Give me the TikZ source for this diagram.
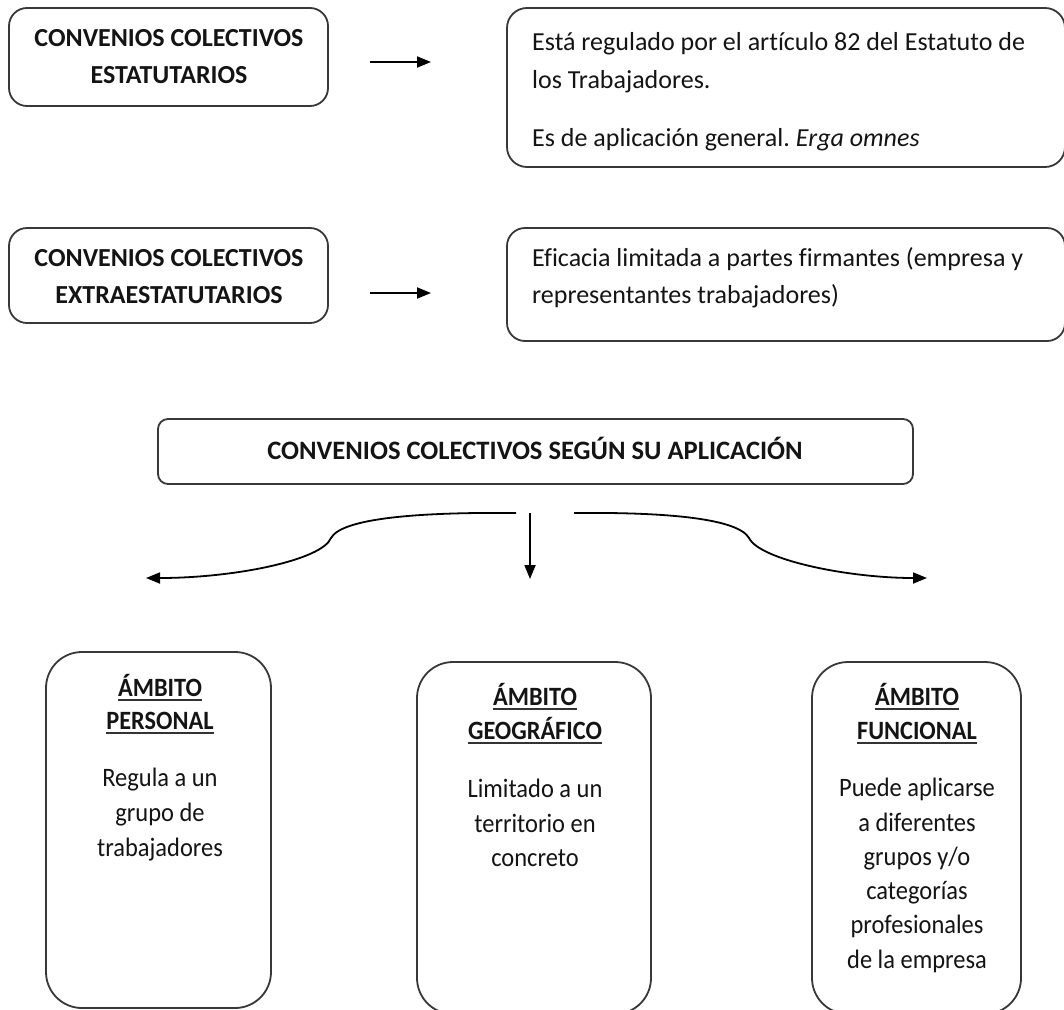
\documentclass[tikz,border=0pt]{standalone}
\usepackage{fontspec}
\setmainfont{Carlito}[Ligatures=NoCommon]
\newfontfamily\tallfont{Carlito}[Ligatures=NoCommon, FakeStretch=0.92]
\usetikzlibrary{arrows.meta}
\frenchspacing
\begin{document}
\begin{tikzpicture}[x=1pt,y=-1pt,
  frame/.style={draw=black!78, line width=1.8pt, inner sep=0pt},
  txt/.style={inner sep=0pt, anchor=base, text=black!92, font=\fontsize{26}{30}\selectfont},
  txtb/.style={txt, font=\fontsize{26}{30}\selectfont\bfseries},
  txtl/.style={txt, anchor=base west},
  btxt/.style={inner sep=0pt, anchor=base, text=black!92, font=\tallfont\fontsize{26.6}{30}\selectfont},
  btitle/.style={btxt, font=\tallfont\fontsize{26.4}{30}\selectfont\bfseries},
  uline/.style={draw=black!80, line width=2pt},
  arr/.style={line width=1.8pt, draw=black, -{Triangle[length=14pt,width=11pt]}}
]
\useasboundingbox (0,0) rectangle (1064,1009);
\fill[white] (0,0) rectangle (1064,1009);

% top-left boxes
\node[frame, rounded corners=18pt, minimum width=319pt, minimum height=98pt] (b1) at (168.5,57) {};
\node[txtb] (t1a) at (169,46) {CONVENIOS COLECTIVOS};
\node[txtb] (t1b) at (169,83) {ESTATUTARIOS};

\node[frame, rounded corners=18pt, minimum width=319pt, minimum height=95pt] (b3) at (168.5,275.5) {};
\node[txtb] (t3a) at (169,266) {CONVENIOS COLECTIVOS};
\node[txtb] (t3b) at (169,303) {EXTRAESTATUTARIOS};

% top-right boxes
\node[frame, rounded corners=20pt, minimum width=558pt, minimum height=159pt] (b2) at (786,87.5) {};
\node[txtl] (t2a) at (532,50) {Está regulado por el artículo 82 del Estatuto de};
\node[txtl] (t2b) at (532,88) {los Trabajadores.};
\node[txtl] (t2c) at (532,146) {Es de aplicación general. \textit{Erga omnes}};

\node[frame, rounded corners=18pt, minimum width=558pt, minimum height=113pt] (b4) at (786,284.5) {};
\node[txtl] (t4a) at (532,266) {Eficacia limitada a partes firmantes (empresa y};
\node[txtl] (t4b) at (532,303) {representantes trabajadores)};

% horizontal arrows
\coordinate (a1s) at (370,62);
\coordinate (a1e) at (431,62);
\coordinate (a2s) at (370,293);
\coordinate (a2e) at (431,293);
\draw[arr] (a1s) -- (a1e);
\draw[arr] (a2s) -- (a2e);

% middle box
\node[frame, rounded corners=10pt, minimum width=755pt, minimum height=65pt] (b5) at (535.5,451.5) {};
\node[txtb, font=\fontsize{26.6}{30}\selectfont\bfseries] (t5) at (535,459) {CONVENIOS COLECTIVOS SEGÚN SU APLICACIÓN};

% branching arrows
\coordinate (cLs) at (516,513);
\coordinate (cLe) at (146,578);
\coordinate (cMs) at (530,513);
\coordinate (cMe) at (530,579);
\coordinate (cRs) at (574,513);
\coordinate (cRe) at (927,578);
\draw[arr] (cLs) .. controls (420,512) and (342,518) .. (331,538)
                 .. controls (322,560) and (235,578) .. (cLe);
\draw[arr] (cMs) -- (cMe);
\draw[arr] (cRs) .. controls (670,512) and (738,519) .. (749,538)
                 .. controls (760,560) and (848,578) .. (cRe);

% bottom boxes
\node[frame, rounded corners=36pt, minimum width=225pt, minimum height=356pt] (b6) at (158.5,830) {};
\node[btitle] (t6a) at (160,696) {ÁMBITO};
\node[btitle] (t6b) at (160,729) {PERSONAL};
\node[btxt] (t6c) at (160,786) {Regula a un};
\node[btxt] (t6d) at (160,821) {grupo de};
\node[btxt] (t6e) at (160,856) {trabajadores};

\node[frame, rounded corners=36pt, minimum width=234pt, minimum height=352pt] (b7) at (534,838) {};
\node[btitle] (t7a) at (535,705) {ÁMBITO};
\node[btitle] (t7b) at (535,739) {GEOGRÁFICO};
\node[btxt] (t7c) at (535,797) {Limitado a un};
\node[btxt] (t7d) at (535,832) {territorio en};
\node[btxt] (t7e) at (535,866) {concreto};

\node[frame, rounded corners=36pt, minimum width=209pt, minimum height=352pt] (b8) at (916.5,838) {};
\node[btitle] (t8a) at (917,705) {ÁMBITO};
\node[btitle] (t8b) at (917,739) {FUNCIONAL};
\node[btxt] (t8c) at (917,796) {Puede aplicarse};
\node[btxt] (t8d) at (917,831) {a diferentes};
\node[btxt] (t8e) at (917,865) {grupos y/o};
\node[btxt] (t8f) at (917,899) {categorías};
\node[btxt] (t8g) at (917,933) {profesionales};
\node[btxt] (t8h) at (917,968) {de la empresa};

% underlines of the titles
\foreach \t in {t6a,t6b,t7a,t7b,t8a,t8b}
  \draw[uline] ([yshift=-4pt]\t.base west) -- ([yshift=-4pt]\t.base east);
\end{tikzpicture}
\end{document}
